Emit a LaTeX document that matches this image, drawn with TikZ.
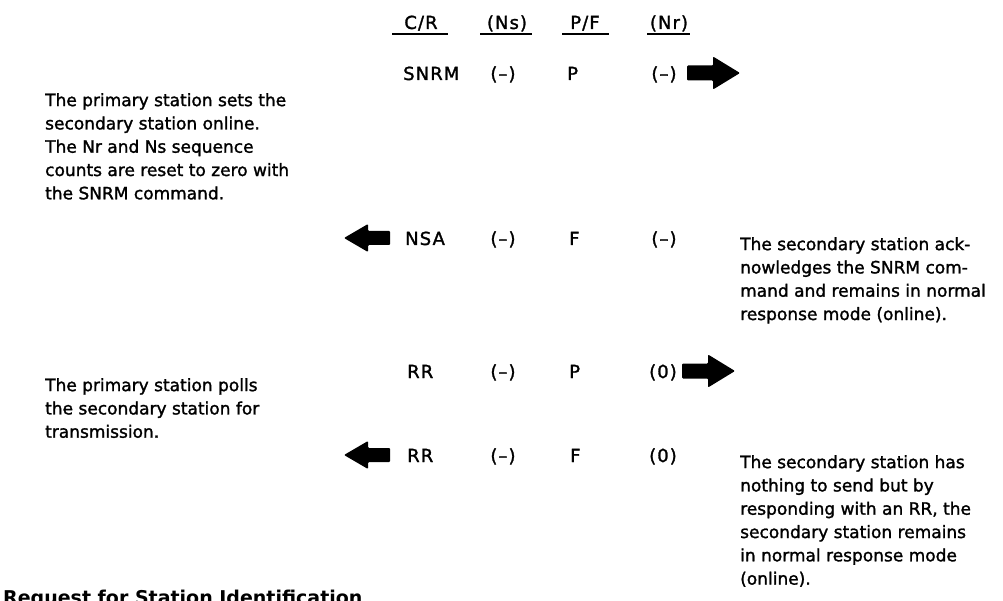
\documentclass[tikz,border=0pt]{standalone}
\usepackage{fontspec}
\setmainfont{DejaVu Sans}[FakeBold=1.5]
\newfontfamily\cellfont{DejaVu Sans}[FakeBold=1.5,LetterSpace=6]
\newfontfamily\headfont{DejaVu Sans Bold}
\begin{document}
\begin{tikzpicture}[x=1pt,y=-1pt,
  txt/.style={inner sep=0pt,font=\fontsize{17}{23.3}\selectfont},
  desc/.style={txt,align=left,anchor=north west},
  cell/.style={inner sep=0pt,font=\cellfont\fontsize{18}{22}\selectfont,anchor=base},
  cellw/.style={cell,anchor=base west},
  ul/.style={line width=1.7pt},
  rarrow/.pic={\fill[rounded corners=1pt] (0,-7.5) -- (26,-7.5) -- (26,-16.5) -- (53,0)
                -- (26,16.5) -- (26,7.5) -- (0,7.5) -- cycle;},
  larrow/.pic={\fill[rounded corners=1pt] (0,0) -- (24,-14) -- (24,-7) -- (46,-7)
                -- (46,7) -- (24,7) -- (24,14) -- cycle;}]
\useasboundingbox (0,0) rectangle (1003,601);
\clip (0,0) rectangle (1003,601);

% column headings
\node[cell] (hcr) at (421,29) {C/R};
\node[cell] (hns) at (507,29) {(Ns)};
\node[cell] (hpf) at (585,29) {P/F};
\node[cell] (hnr) at (669,29) {(Nr)};
\draw[ul] (392,34) -- (448,34);
\draw[ul] (480,34) -- (532,34);
\draw[ul] (562,34) -- (609,34);
\draw[ul] (647,34) -- (690,34);

% SNRM from the primary
\node[cellw] (c1) at (403,80) {SNRM};
\node[cell] (s1) at (503,80) {(–)};
\node[cellw] (p1) at (567,80) {P};
\node[cell] (n1) at (664,80) {(–)};
\pic at (687,73) {rarrow};

% NSA from the secondary
\pic at (344,238) {larrow};
\node[cellw] (c2) at (405,245) {NSA};
\node[cell] (s2) at (503,245) {(–)};
\node[cellw] (p2) at (569,245) {F};
\node[cell] (n2) at (664,245) {(–)};

% RR poll from the primary
\node[cellw] (c3) at (407,378) {RR};
\node[cell] (s3) at (503,378) {(–)};
\node[cellw] (p3) at (569,378) {P};
\node[cell] (n3) at (663,378) {(0)};
\pic at (682,371) {rarrow};

% RR response from the secondary
\pic at (344,455) {larrow};
\node[cellw] (c4) at (407,462) {RR};
\node[cell] (s4) at (503,462) {(–)};
\node[cellw] (p4) at (570,462) {F};
\node[cell] (n4) at (663,462) {(0)};

% explanations (top edge = first baseline minus the ascender)
\node[desc] (d1) at (45,93) {The primary station sets the\\secondary station online.\\The Nr and Ns sequence\\counts are reset to zero with\\the SNRM command.};
\node[desc] (d2) at (740,237) {The secondary station ack-\\nowledges the SNRM com-\\mand and remains in normal\\response mode (online).};
\node[desc] (d3) at (45,378) {The primary station polls\\the secondary station for\\transmission.};
\node[desc] (d4) at (740,455) {The secondary station has\\nothing to send but by\\responding with an RR, the\\secondary station remains\\in normal response mode\\(online).};

% next section heading
\node[inner sep=0pt,anchor=base west,font=\headfont\fontsize{19}{22}\selectfont] (sec) at (3,604) {Request for Station Identification};
\end{tikzpicture}
\end{document}
